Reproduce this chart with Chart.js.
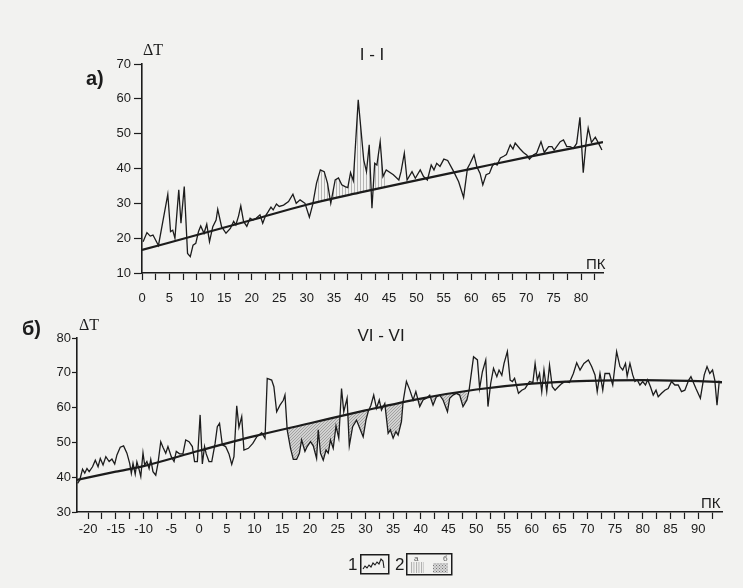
<!DOCTYPE html>
<html>
<head>
<meta charset="utf-8">
<script src="https://cdn.jsdelivr.net/npm/chart.js@4.4.0/dist/chart.umd.min.js"></script>
<style>
  body { margin: 0; background: #f2f2f0; }
  #page { position: relative; width: 743px; height: 588px; overflow: hidden; background: #f2f2f0; }
  canvas { position: absolute; left: 0; }
  .txt { position: absolute; color: #1c1c1c; white-space: nowrap; line-height: 1;
         font-family: "Liberation Sans Narrow", "Liberation Sans", Arial, sans-serif; z-index: 2; }
  .serif { font-family: "Liberation Serif", "DejaVu Serif", serif; }
  .bold { font-weight: bold; }
  svg { position: absolute; z-index: 2; }
</style>
</head>
<body>
<div id="page">
  <canvas id="chart1" width="743" height="310" style="top:0"></canvas>
  <canvas id="chart2" width="743" height="278" style="top:310px"></canvas>

  <div class="txt bold" style="left:86px;top:68px;font-size:20px">а)</div>
  <div class="txt serif" style="left:143px;top:42px;font-size:16px">ΔT</div>
  <div class="txt" style="left:342px;top:46px;width:60px;text-align:center;font-size:17px">I - I</div>
  <div class="txt" style="left:586px;top:256px;font-size:15px">ПК</div>

  <div class="txt bold" style="left:22px;top:318px;font-size:20px">б)</div>
  <div class="txt serif" style="left:79px;top:317px;font-size:16px">ΔT</div>
  <div class="txt" style="left:346px;top:327px;width:70px;text-align:center;font-size:17px">VI - VI</div>
  <div class="txt" style="left:701px;top:495px;font-size:15px">ПК</div>

  <!-- legend -->
  <div class="txt" style="left:348px;top:556px;font-size:17px">1</div>
  <svg style="left:360px;top:554px" width="30" height="21">
    <rect x="0.75" y="0.75" width="28" height="19" fill="none" stroke="#1c1c1c" stroke-width="1.5"/>
    <polyline points="3,15 5,12 7,14 9,11 11,13 13,9 15,11 17,8 19,10 21,5 23,7 24,14" fill="none" stroke="#1c1c1c" stroke-width="1.1"/>
  </svg>
  <div class="txt" style="left:395px;top:556px;font-size:17px">2</div>
  <svg style="left:406px;top:553px" width="47" height="23">
    <defs>
      <pattern id="pa" width="2.5" height="4" patternUnits="userSpaceOnUse">
        <line x1="0.5" y1="0" x2="0.5" y2="4" stroke="#9a9a9a" stroke-width="0.8"/>
      </pattern>
      <pattern id="pb" width="3" height="3" patternUnits="userSpaceOnUse">
        <rect width="3" height="3" fill="#d6d6d6"/>
        <rect x="0" y="0" width="1" height="1" fill="#777"/>
        <rect x="1.5" y="1.5" width="1" height="1" fill="#888"/>
      </pattern>
    </defs>
    <rect x="0.75" y="0.75" width="45" height="21" fill="none" stroke="#1c1c1c" stroke-width="1.5"/>
    <text x="8" y="8" font-size="8" fill="#555" font-family="Liberation Sans, Arial">а</text>
    <rect x="4" y="9" width="14" height="11" fill="url(#pa)"/>
    <text x="37" y="8" font-size="8" fill="#555" font-family="Liberation Sans, Arial">б</text>
    <rect x="27" y="10" width="15" height="10" fill="url(#pb)"/>
  </svg>
</div>

<script>
// profile I - I : picket (ПК) and ΔT
const pk1 = [0.2,0.9,1.5,2,3,4.7,5.2,5.6,6,6.7,
  7.1,7.7,8.3,8.8,9.3,9.8,10.3,10.7,11.3,11.8,
  12.3,12.9,13.5,13.8,14.5,15.3,16.1,16.7,17.1,17.6,
  18,18.5,19.1,19.7,20.2,20.8,21.5,22,22.5,23,
  23.5,23.9,24.5,25,25.8,26.7,27.5,28.1,28.8,29.7,
  30.5,31.1,31.8,32.5,33.2,33.8,34.4,35.2,35.8,36.4,
  37,37.5,38,38.5,39.4,40.4,40.9,41.4,41.9,42.4,
  42.8,43.4,43.9,44.5,45.8,46.8,47.2,47.8,48.3,49.2,
  49.8,50.7,51.3,52,52.7,53.2,53.7,54.3,55,55.7,
  56.8,57.7,58.6,59.3,59.8,60.5,61,61.6,62.1,62.7,
  63.3,63.8,64.2,64.7,65.3,65.9,66.4,67.1,67.6,68,
  68.9,69.5,70.1,70.6,71.3,71.9,72.7,73.3,74.1,74.7,
  75.1,76.2,76.8,77.4,78,78.6,79.2,79.8,80.4,80.9,
  81.3,81.9,82.6,83.2,83.8];
const dt1 = [19,21.6,20.6,20.9,17.9,32.6,21.9,22.3,20,33.9,
  24.3,34.8,15.6,14.7,18,18.5,21.9,23.5,21.4,24,
  19,23.3,25.2,28.3,23.3,21.4,22.8,24.8,23.8,26.4,
  29.3,24.8,23.4,25.7,25.2,25.7,26.7,24.3,26.4,27.6,
  28.9,28.1,29.8,29.1,29.5,30.5,32.6,30,31,30,
  26,29.6,35.8,39.6,39.1,35.8,30,36.7,37.3,35.3,
  34.8,34.5,38.8,36.5,59.7,42.5,39.1,46.8,28.6,41.5,
  41,47.7,37.7,39.6,38.2,36.7,39.1,44.4,36.7,39.1,
  37.2,39.6,37.7,36.7,41,39.6,41.5,40.6,42.7,42.3,
  39.1,36.2,31.7,40,41.5,43.9,40.6,38.6,35.3,38.2,
  38.6,40.6,41.5,41,43,43.5,44,46.8,45.6,47.3,
  45.6,44.6,43.9,42.7,43.9,44.4,47.7,44.6,46.3,46.3,
  45.3,47.7,48.2,46.3,46.3,45.8,47.2,54.7,38.8,47.2,
  51.6,47.5,49,47.2,45.3];
// regional trend for I - I
const trendPk1 = [0,10,20,30,40,50,60,70,80,84];
const trendDt1 = [16.6,20.9,25.2,29.6,33.2,36.6,39.9,43.2,46.3,47.6];
// hatched (positive) anomaly zone, pickets
const shadeFrom1 = 31.3, shadeTo1 = 45;

// profile VI - VI
const pk2 = [-21.9,-21.5,-21,-20.6,-20.2,-19.8,-19.2,-18.7,-18.2,-17.8,
  -17.3,-16.8,-16.2,-15.7,-15.2,-14.8,-14.2,-13.6,-13,-12.5,
  -12.2,-11.9,-11.5,-11.2,-10.8,-10.5,-10.1,-9.8,-9.4,-9,
  -8.7,-8.3,-7.8,-7.4,-6.9,-6.5,-6,-5.6,-5,-4.5,
  -4.1,-3.5,-2.9,-2.4,-1.8,-1.2,-0.8,-0.3,0.2,0.6,
  1,1.3,1.8,2.3,2.9,3.3,3.7,4.2,4.8,5.4,
  5.9,6.3,6.8,7.2,7.7,8.1,8.9,9.7,10.4,11.3,
  11.9,12.3,13.1,13.5,14,14.6,15.2,15.5,15.9,16.5,
  17,17.6,18.1,18.5,19.1,19.5,20.1,20.6,21.2,21.5,
  21.9,22.4,22.9,23.3,23.7,24.2,24.7,25.2,25.7,26.1,
  26.7,27.1,27.7,28.4,29,29.6,30.1,30.5,31,31.5,
  32,32.5,32.9,33.5,34.1,34.5,35,35.5,35.9,36.5,
  36.8,37.4,38,38.6,39.1,39.8,40.4,41,41.6,42.2,
  42.8,43.4,44,44.8,45.2,45.8,46.4,47,47.6,48.3,
  48.7,49.5,50.2,50.6,51.1,51.7,52.1,52.6,53.1,53.7,
  54.1,54.6,55,55.6,56.1,56.5,56.9,57.6,58.2,58.8,
  59.6,60.2,60.6,61,61.4,61.8,62.2,62.7,63.2,63.7,
  64.2,64.8,65.4,66,66.8,67.5,68.1,68.7,69.4,70.2,
  70.8,71.4,71.8,72.3,72.8,73.2,74,74.6,75.3,75.9,
  76.4,76.9,77.2,77.7,78.2,78.6,79,79.5,80,80.5,
  80.9,81.4,81.9,82.4,82.8,83.4,84,84.6,85.2,85.8,
  86.4,87,87.6,88.3,88.7,89.2,89.6,90.4,91.1,91.6,
  92.1,92.6,93,93.4,93.8,94.2];
const dt2 = [38.2,39.2,42.3,41.2,42.5,41.6,43,44.9,43,45.4,
  43.5,45.9,44.5,45.2,43.8,46.4,48.6,49,46.9,44,
  41.1,44,40.9,44.4,42.2,40.2,47,43.5,44.5,42.5,
  45.1,41.6,40.6,44,50.2,48.6,46.9,48.8,45.9,44.5,
  47.4,46.7,46.7,50.7,50.2,48.8,44.5,44.5,57.9,43.8,
  48.8,46.7,44.5,44.5,49.7,54.5,55.5,49.3,48.8,46.7,
  43.7,45.9,60.5,54.3,57.4,47.8,48.3,49.7,51.6,52.8,
  51.2,68.4,67.9,66,58.8,60.7,62.1,63.6,53.6,48.3,
  45.1,45.1,46.9,50.7,47.4,48.8,50.2,49,45.4,53.6,
  46.9,44.9,47.8,46.9,50.7,48.3,54.7,51.2,65.5,58.8,
  62.7,49,54.5,56.4,54,51.6,56.4,58.8,60.7,63.6,
  59.8,62.2,59.3,61.2,52.6,53.6,51.2,53.1,52.1,56,
  61.7,67.5,65.1,62.2,64.6,60.3,62.2,62.7,63.6,60.7,
  63.1,63.6,62.2,58.8,62.7,63.6,64.1,63.6,60.3,62.2,
  65,74.6,73.7,65.5,70.3,73.7,60.3,67,71.3,68.9,
  70.8,69.3,72.7,76.1,67.9,67.5,68.4,64.1,65,65.5,
  67.5,67.2,72.7,67.9,69.8,64.6,70.8,64.6,72.2,66,
  65,66,66.9,67.5,67.2,69.8,72.9,70.8,72.7,73.7,
  71.8,69.4,64.6,69.8,65,69.8,69.8,66.5,76.1,71.8,
  70.8,72.7,69,72.7,69.4,67.5,68,66.5,67.5,66.5,
  68,66,63.6,65,63.1,64.1,65,65.5,67.5,66.5,
  66.5,64.6,65,67.9,68.9,67,65.5,62.7,69.4,71.8,
  69.8,70.8,67.9,60.7,67.5,67];
const trendPk2 = [-22,-15,-10,0,10,20,30,40,50,60,70,80,90,95];
const trendDt2 = [39.2,41.6,43.2,47.6,51.8,55.5,59.2,62.6,65.2,66.9,67.7,67.9,67.6,67.3];
// stippled (negative) anomaly zone
const shadeFrom2 = 15.8, shadeTo2 = 48.5;

const INK = "#1c1c1c";
const FONT = '"Liberation Sans Narrow", "Liberation Sans", Arial, sans-serif';

const toPoints = (xs, ys) => xs.map((x, i) => ({ x: x, y: ys[i] }));
const slicePoints = (xs, ys, a, b) => toPoints(xs, ys).filter((p) => p.x >= a && p.x <= b);

// fill patterns (а - vertical lines, б - stipple)
function stripePattern() {
  const c = document.createElement("canvas");
  c.width = 3; c.height = 2;
  const g = c.getContext("2d");
  g.fillStyle = "rgba(120,120,120,0.5)";
  g.fillRect(0, 0, 1, 2);
  return g.createPattern(c, "repeat");
}
function stipplePattern() {
  const c = document.createElement("canvas");
  c.width = 3; c.height = 3;
  const g = c.getContext("2d");
  g.fillStyle = "rgba(170,170,170,0.45)";
  g.fillRect(0, 0, 3, 3);
  g.fillStyle = "rgba(90,90,90,0.4)";
  g.fillRect(0, 0, 1, 1);
  g.fillRect(2, 1, 1, 1);
  g.fillRect(1, 2, 1, 1);
  return g.createPattern(c, "repeat");
}

// common axis settings
function xAxis(min, max, height, pad) {
  return {
    type: "linear", min: min, max: max,
    afterFit: (s) => { s.height = height; },
    border: { display: true, color: INK, width: 1.6 },
    grid: { drawOnChartArea: false, drawTicks: true, tickLength: 7, tickColor: INK, tickWidth: 1.2 },
    ticks: {
      stepSize: 2.5, autoSkip: false, maxRotation: 0, includeBounds: false,
      padding: pad, color: INK, font: { family: FONT, size: 13 },
      callback: (v) => (v % 5 === 0 ? v : ""),
    },
  };
}
function yAxis(min, max, width, tl, pad) {
  return {
    min: min, max: max,
    afterFit: (s) => { s.width = width; },
    border: { display: true, color: INK, width: 1.6 },
    grid: { drawOnChartArea: false, drawTicks: true, tickLength: tl, tickColor: INK, tickWidth: 1.2 },
    ticks: {
      stepSize: 5, padding: pad, color: INK, font: { family: FONT, size: 13 },
      callback: (v) => (v % 10 === 0 ? v : ""),
    },
  };
}

// chart a) profile I - I
new Chart(document.getElementById("chart1"), {
  type: "line",
  data: {
    datasets: [
      { data: toPoints(pk1, dt1), borderColor: INK, borderWidth: 1.3, pointRadius: 0, tension: 0, fill: false },
      { data: toPoints(trendPk1, trendDt1), borderColor: INK, borderWidth: 2.2, pointRadius: 0,
        cubicInterpolationMode: "monotone", fill: false },
      { data: slicePoints(pk1, dt1, shadeFrom1, shadeTo1), borderColor: "rgba(0,0,0,0)", borderWidth: 0,
        pointRadius: 0, tension: 0, fill: { target: 1, above: stripePattern(), below: "rgba(0,0,0,0)" } },
    ],
  },
  options: {
    responsive: false,
    animation: false,
    devicePixelRatio: 1,
    layout: { padding: { left: 0, right: 140, top: 64, bottom: 0 } },
    scales: {
      x: xAxis(0, 84, 37, 11),
      y: yAxis(10, 70, 142, 8, 3),
    },
    plugins: { legend: { display: false }, tooltip: { enabled: false } },
  },
});

// chart б) profile VI - VI
new Chart(document.getElementById("chart2"), {
  type: "line",
  data: {
    datasets: [
      { data: toPoints(pk2, dt2), borderColor: INK, borderWidth: 1.3, pointRadius: 0, tension: 0, fill: false },
      { data: toPoints(trendPk2, trendDt2), borderColor: INK, borderWidth: 2.2, pointRadius: 0,
        cubicInterpolationMode: "monotone", fill: false },
      { data: slicePoints(pk2, dt2, shadeFrom2, shadeTo2), borderColor: "rgba(0,0,0,0)", borderWidth: 0,
        pointRadius: 0, tension: 0, fill: { target: 1, above: "rgba(0,0,0,0)", below: stipplePattern() } },
    ],
  },
  options: {
    responsive: false,
    animation: false,
    devicePixelRatio: 1,
    layout: { padding: { left: 0, right: 21, top: 28, bottom: 0 } },
    scales: {
      x: xAxis(-22, 94.3, 76, 3),
      y: yAxis(30, 80, 77, 5, 1),
    },
    plugins: { legend: { display: false }, tooltip: { enabled: false } },
  },
});
</script>
</body>
</html>
